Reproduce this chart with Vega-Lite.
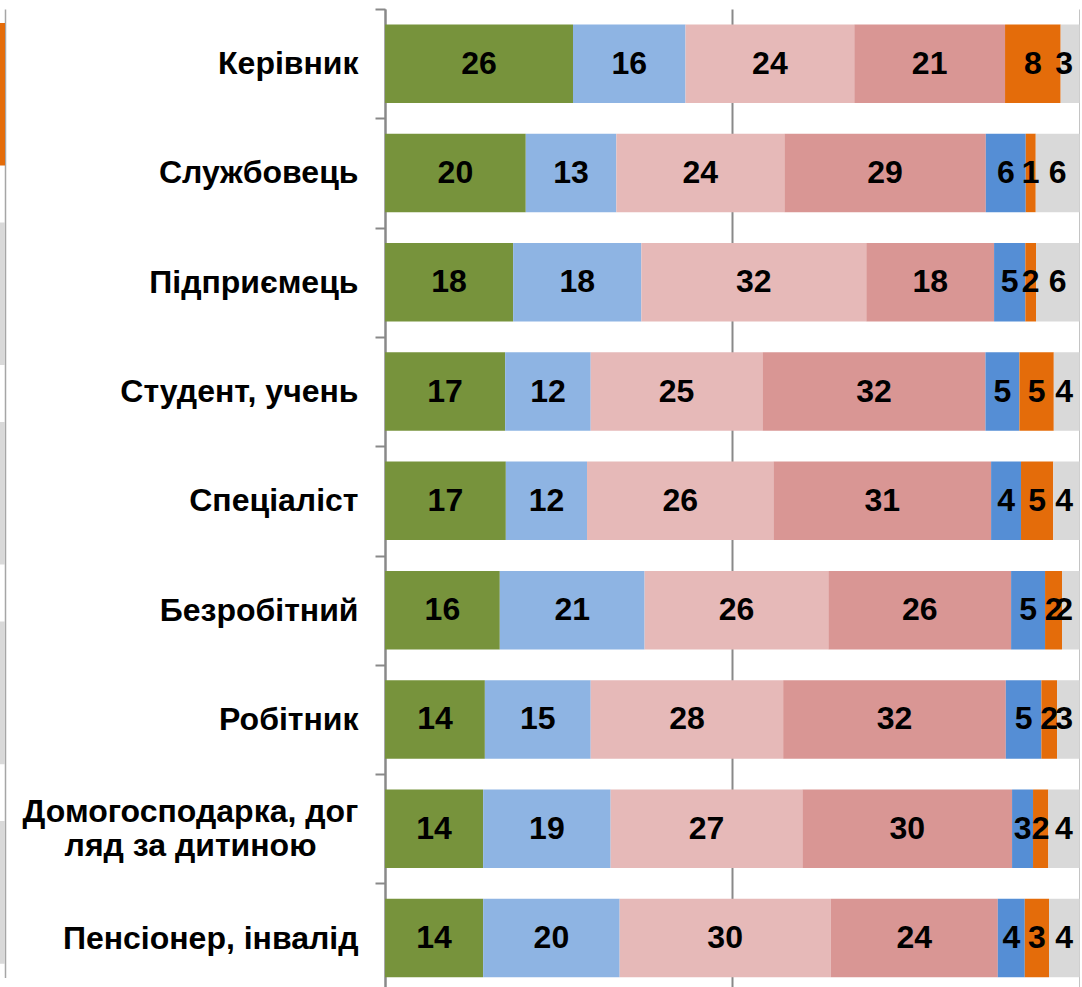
{
  "$schema": "https://vega.github.io/schema/vega-lite/v6.json",
  "padding": {"left": 0, "top": -7, "right": 0, "bottom": 0},
  "autosize": {"type": "pad"},
  "background": "white",
  "spacing": 0,
  "config": {"view": {"stroke": null}, "font": "Liberation Sans"},
  "datasets": {
    "edge": [
      {"row": "r1", "answer": "A6", "from": 92, "to": 100},
      {"row": "r2", "answer": "A7", "from": 95, "to": 100},
      {"row": "r3", "answer": "A7", "from": 95, "to": 100},
      {"row": "r4", "answer": "A7", "from": 95, "to": 100},
      {"row": "r5", "answer": "A7", "from": 95, "to": 100}
    ],
    "main": [
      {"category": "Керівник", "answer": "A1", "share": 27.07, "label": 26},
      {"category": "Керівник", "answer": "A2", "share": 16.2, "label": 16},
      {"category": "Керівник", "answer": "A3", "share": 24.3, "label": 24},
      {"category": "Керівник", "answer": "A4", "share": 21.71, "label": 21},
      {"category": "Керівник", "answer": "A6", "share": 8.01, "label": 8},
      {"category": "Керівник", "answer": "A7", "share": 2.7, "label": 3},
      {"category": "Службовець", "answer": "A1", "share": 20.27, "label": 20},
      {"category": "Службовець", "answer": "A2", "share": 13.04, "label": 13},
      {"category": "Службовець", "answer": "A3", "share": 24.2, "label": 24},
      {"category": "Службовець", "answer": "A4", "share": 29.0, "label": 29},
      {"category": "Службовець", "answer": "A5", "share": 5.75, "label": 6},
      {"category": "Службовець", "answer": "A6", "share": 1.44, "label": 1},
      {"category": "Службовець", "answer": "A7", "share": 6.3, "label": 6},
      {"category": "Підприємець", "answer": "A1", "share": 18.45, "label": 18},
      {"category": "Підприємець", "answer": "A2", "share": 18.46, "label": 18},
      {"category": "Підприємець", "answer": "A3", "share": 32.39, "label": 32},
      {"category": "Підприємець", "answer": "A4", "share": 18.4, "label": 18},
      {"category": "Підприємець", "answer": "A5", "share": 4.5, "label": 5},
      {"category": "Підприємець", "answer": "A6", "share": 1.54, "label": 2},
      {"category": "Підприємець", "answer": "A7", "share": 6.25, "label": 6},
      {"category": "Студент, учень", "answer": "A1", "share": 17.3, "label": 17},
      {"category": "Студент, учень", "answer": "A2", "share": 12.32, "label": 12},
      {"category": "Студент, учень", "answer": "A3", "share": 24.73, "label": 25},
      {"category": "Студент, учень", "answer": "A4", "share": 32.11, "label": 32},
      {"category": "Студент, учень", "answer": "A5", "share": 4.89, "label": 5},
      {"category": "Студент, учень", "answer": "A6", "share": 4.95, "label": 5},
      {"category": "Студент, учень", "answer": "A7", "share": 3.7, "label": 4},
      {"category": "Спеціаліст", "answer": "A1", "share": 17.4, "label": 17},
      {"category": "Спеціаліст", "answer": "A2", "share": 11.69, "label": 12},
      {"category": "Спеціаліст", "answer": "A3", "share": 26.84, "label": 26},
      {"category": "Спеціаліст", "answer": "A4", "share": 31.34, "label": 31},
      {"category": "Спеціаліст", "answer": "A5", "share": 4.31, "label": 4},
      {"category": "Спеціаліст", "answer": "A6", "share": 4.64, "label": 5},
      {"category": "Спеціаліст", "answer": "A7", "share": 3.78, "label": 4},
      {"category": "Безробітний", "answer": "A1", "share": 16.53, "label": 16},
      {"category": "Безробітний", "answer": "A2", "share": 20.85, "label": 21},
      {"category": "Безробітний", "answer": "A3", "share": 26.46, "label": 26},
      {"category": "Безробітний", "answer": "A4", "share": 26.31, "label": 26},
      {"category": "Безробітний", "answer": "A5", "share": 4.89, "label": 5},
      {"category": "Безробітний", "answer": "A6", "share": 2.44, "label": 2},
      {"category": "Безробітний", "answer": "A7", "share": 2.52, "label": 2},
      {"category": "Робітник", "answer": "A1", "share": 14.38, "label": 14},
      {"category": "Робітник", "answer": "A2", "share": 15.24, "label": 15},
      {"category": "Робітник", "answer": "A3", "share": 27.71, "label": 28},
      {"category": "Робітник", "answer": "A4", "share": 32.06, "label": 32},
      {"category": "Робітник", "answer": "A5", "share": 5.12, "label": 5},
      {"category": "Робітник", "answer": "A6", "share": 2.26, "label": 2},
      {"category": "Робітник", "answer": "A7", "share": 3.23, "label": 3},
      {"category": "Домогосподарка, догляд за дитиною", "answer": "A1", "share": 14.13, "label": 14},
      {"category": "Домогосподарка, догляд за дитиною", "answer": "A2", "share": 18.36, "label": 19},
      {"category": "Домогосподарка, догляд за дитиною", "answer": "A3", "share": 27.61, "label": 27},
      {"category": "Домогосподарка, догляд за дитиною", "answer": "A4", "share": 30.19, "label": 30},
      {"category": "Домогосподарка, догляд за дитиною", "answer": "A5", "share": 3.02, "label": 3},
      {"category": "Домогосподарка, догляд за дитиною", "answer": "A6", "share": 2.2, "label": 2},
      {"category": "Домогосподарка, догляд за дитиною", "answer": "A7", "share": 4.49, "label": 4},
      {"category": "Пенсіонер, інвалід", "answer": "A1", "share": 14.13, "label": 14},
      {"category": "Пенсіонер, інвалід", "answer": "A2", "share": 19.66, "label": 20},
      {"category": "Пенсіонер, інвалід", "answer": "A3", "share": 30.38, "label": 30},
      {"category": "Пенсіонер, інвалід", "answer": "A4", "share": 24.07, "label": 24},
      {"category": "Пенсіонер, інвалід", "answer": "A5", "share": 3.88, "label": 4},
      {"category": "Пенсіонер, інвалід", "answer": "A6", "share": 3.49, "label": 3},
      {"category": "Пенсіонер, інвалід", "answer": "A7", "share": 4.39, "label": 4}
    ]
  },
  "hconcat": [
    {
      "width": 5,
      "height": 968.6,
      "data": {"name": "edge"},
      "mark": {"type": "bar"},
      "encoding": {
        "y": {"field": "row", "type": "nominal", "sort": null, "axis": null,
              "scale": {"paddingInner": 0.285, "paddingOuter": 0.07}},
        "x": {"field": "from", "type": "quantitative",
              "scale": {"domain": [99.25, 100], "clamp": true, "nice": false, "zero": false},
              "axis": {"values": [100], "grid": true, "gridColor": "#a6a6a6", "gridWidth": 1.5,
                       "labels": false, "ticks": false, "domain": false, "title": null}},
        "x2": {"field": "to"},
        "color": {"field": "answer", "type": "nominal", "legend": null,
                  "scale": {"domain": ["A1", "A2", "A3", "A4", "A5", "A6", "A7"],
                            "range": ["#77933c", "#8eb4e3", "#e6b9b8", "#d99694", "#558ed5", "#e46c0a", "#d9d9d9"]}}
      }
    },
    {
      "width": 694.5,
      "height": 983.7,
      "data": {"name": "main"},
      "transform": [
        {"stack": "share", "groupby": ["category"], "sort": [{"field": "answer"}], "as": ["x0", "x1"]},
        {"calculate": "min((datum.x0 + datum.x1) / 2, 97.8)", "as": "xm"}
      ],
      "encoding": {
        "y": {
          "field": "category", "type": "nominal", "sort": null,
          "scale": {"paddingInner": 0, "paddingOuter": 0},
          "axis": {
            "title": null,
            "domainColor": "#898989", "domainWidth": 2,
            "tickColor": "#898989", "tickWidth": 2, "tickSize": 10, "tickBand": "extent",
            "labelFont": "Liberation Sans", "labelFontSize": 32, "labelFontWeight": "bold",
            "labelColor": "black", "labelLimit": 400, "labelOverlap": false,
            "labelLineHeight": 34,
            "minExtent": 379.5, "maxExtent": 379.5,
            "labelExpr": "datum.label == 'Домогосподарка, догляд за дитиною' ? ['Домогосподарка, дог', 'ляд за дитиною'] : datum.label",
            "labelAlign": {"condition": {"test": "datum.value == 'Домогосподарка, догляд за дитиною'", "value": "center"}, "value": "right"},
            "labelPadding": {"condition": {"test": "datum.value == 'Домогосподарка, догляд за дитиною'", "value": 185}, "value": 17},
            "labelOffset": {"condition": {"test": "datum.value == 'Домогосподарка, догляд за дитиною'", "value": -17}, "value": 0}
          }
        }
      },
      "layer": [
        {
          "mark": {"type": "bar", "height": {"band": 0.718}},
          "encoding": {
            "x": {"field": "x0", "type": "quantitative",
                  "scale": {"domain": [0, 100], "nice": false},
                  "axis": {"values": [0, 50, 100], "grid": true, "gridColor": "#898989", "gridWidth": 2,
                           "labels": false, "ticks": false, "domain": false, "title": null}},
            "x2": {"field": "x1"},
            "color": {"field": "answer", "type": "nominal", "legend": null,
                      "scale": {"domain": ["A1", "A2", "A3", "A4", "A5", "A6", "A7"],
                                "range": ["#77933c", "#8eb4e3", "#e6b9b8", "#d99694", "#558ed5", "#e46c0a", "#d9d9d9"]}}
          }
        },
        {
          "mark": {"type": "text", "font": "Liberation Sans", "fontSize": 32, "fontWeight": "bold", "color": "black", "baseline": "middle", "align": "center"},
          "encoding": {
            "x": {"field": "xm", "type": "quantitative"},
            "text": {"field": "label", "type": "quantitative"}
          }
        }
      ]
    }
  ]
}
